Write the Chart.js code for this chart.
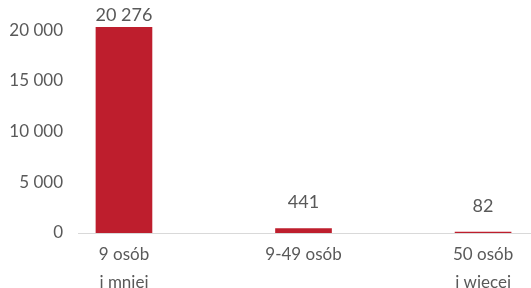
<!DOCTYPE html>
<html>
<head>
<meta charset="utf-8">
<script src="https://cdn.jsdelivr.net/npm/chart.js@4"></script>
<style>
  html, body { margin: 0; padding: 0; background: #fff; }
  #wrap { width: 531px; height: 288px; }
</style>
</head>
<body>
<div id="wrap"><canvas id="chart" width="531" height="288"></canvas></div>
<script>
// categories (firm size) and counts
const categories = [["9 osób", "i mniej"], ["9-49 osób"], ["50 osób", "i więcej"]];
const counts = [20276, 441, 82];
const yTicks = [0, 5000, 10000, 15000, 20000];

const barColor = "#be1e2d";
const textColor = "#595959";

function fmt(n) {
  return String(n).replace(/\B(?=(\d{3})+(?!\d))/g, " ");
}

// value labels above bars
const valueLabels = {
  id: "valueLabels",
  afterDatasetsDraw(chart) {
    const ctx = chart.ctx;
    const meta = chart.getDatasetMeta(0);
    ctx.save();
    ctx.font = "18px Lato";
    ctx.fillStyle = textColor;
    ctx.textAlign = "center";
    ctx.textBaseline = "middle";
    meta.data.forEach((bar, i) => {
      const y = Math.max(bar.y - 26, 15);
      ctx.fillText(fmt(counts[i]), bar.x, y);
    });
    ctx.restore();
  }
};

new Chart(document.getElementById("chart"), {
  type: "bar",
  data: {
    datasets: [{
      data: counts.map((v, i) => ({ x: i, y: v })),
      backgroundColor: barColor,
      barThickness: 56
    }]
  },
  options: {
    responsive: false,
    animation: false,
    layout: { padding: 0 },
    plugins: { legend: { display: false }, tooltip: { enabled: false } },
    scales: {
      x: {
        type: "linear",
        offset: false,
        min: -0.256,
        max: 2.267,
        grid: { display: false, drawTicks: false },
        border: { display: true, color: "#d9d9d9", width: 1 },
        afterBuildTicks: (s) => { s.ticks = categories.map((_, i) => ({ value: i })); },
        afterFit: (s) => { s.height = 55; },
        ticks: {
          padding: 7,
          color: textColor,
          font: { family: "Lato", size: 17, lineHeight: 1.65 },
          maxRotation: 0,
          autoSkip: false,
          callback: (v) => categories[v]
        }
      },
      y: {
        min: 0,
        max: 20490,
        grid: { display: false, drawTicks: false },
        border: { display: false },
        afterBuildTicks: (s) => { s.ticks = yTicks.map((v) => ({ value: v })); },
        afterFit: (s) => { s.width = 78; },
        ticks: {
          padding: 15,
          color: textColor,
          font: { family: "Lato", size: 17 },
          callback: (v) => fmt(v)
        }
      }
    }
  },
  plugins: [valueLabels]
});
</script>
</body>
</html>
